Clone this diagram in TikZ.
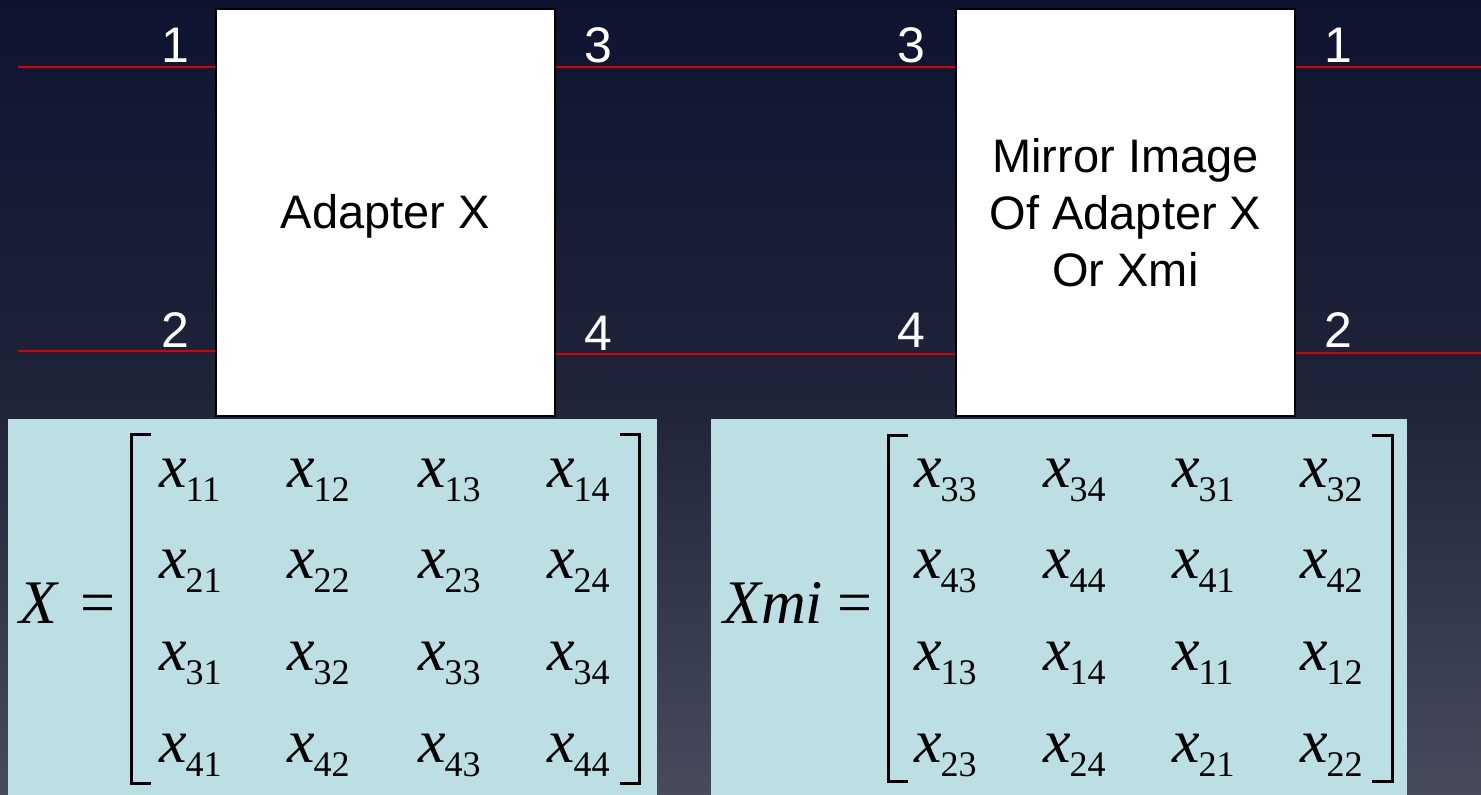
\documentclass[tikz,border=0pt]{standalone}
\usepackage{fontspec}
\setmainfont{Liberation Sans}
\newfontfamily\tnr{Liberation Serif}
\definecolor{bgtop}{HTML}{0E1430}
\definecolor{bgmid}{HTML}{1F2439}
\definecolor{bgbot}{HTML}{474B5C}
\definecolor{panel}{HTML}{BBDFE3}
\definecolor{wirered}{HTML}{DC0000}
\newcommand\melem[1]{{\tnr\fontsize{62}{62}\selectfont\itshape x}\kern-1pt\raisebox{-14pt}{\tnr\fontsize{36}{36}\selectfont #1}}
\tikzset{
  box/.style={draw=black, fill=white, line width=2pt, inner sep=0pt, minimum width=339pt, minimum height=407pt, align=center, font=\fontsize{47}{57}\selectfont},
  wire/.style={draw=wirered, line width=2pt},
  port/.style={text=white, inner sep=0pt, font=\fontsize{50}{50}\selectfont},
  panelbox/.style={fill=panel, draw=none},
  bracket/.style={draw=black, line width=3pt},
  mel/.style={anchor=base west, inner sep=0pt, text=black},
  mlhs/.style={anchor=base west, inner sep=0pt, text=black, font=\tnr\fontsize{62}{62}\selectfont}
}
\begin{document}
\begin{tikzpicture}[x=1pt,y=-1pt]
\shade[top color=bgtop, bottom color=bgbot, middle color=bgmid] (0,0) rectangle (1481,795);
\useasboundingbox (0,0) rectangle (1481,795);

% panels
\fill[panelbox] (8,419) rectangle (657,795);
\fill[panelbox] (711,419) rectangle (1407,795);

% wire end coordinates
\coordinate (l1) at (18,67);
\coordinate (l2) at (18,351);
\coordinate (r1) at (1481,67);
\coordinate (r2) at (1481,353);
\coordinate (m1) at (700,67);
\coordinate (m2) at (700,354);

% boxes
\node[box] (A) at (385.5,212.5) {\raisebox{-4pt}[\height][\depth]{Adapter X}};
\node[box] (B) at (1125.5,212.5) {Mirror Image\\Of Adapter X\\Or Xmi};

% wires
\draw[wire] (l1) -- (l1 -| A.west);
\draw[wire] (l2) -- (l2 -| A.west);
\draw[wire] (m1 -| A.east) -- (m1 -| B.west);
\draw[wire] (m2 -| A.east) -- (m2 -| B.west);
\draw[wire] (r1 -| B.east) -- (r1);
\draw[wire] (r2 -| B.east) -- (r2);

% port labels
\node[port] (pA1) at (175,45) {1};
\node[port] (pA2) at (175,330) {2};
\node[port] (pA3) at (598,45) {3};
\node[port] (pA4) at (598,333) {4};
\node[port] (pB3) at (911,45) {3};
\node[port] (pB4) at (911,330) {4};
\node[port] (pB1) at (1338,45) {1};
\node[port] (pB2) at (1338,330) {2};

% left matrix
\node[mlhs] (lhsX) at (19,623) {\itshape X};
\node[mlhs] (eqX) at (80,623) {=};
\draw[bracket] (151,434) -- (131,434) -- (131,783) -- (151,783);
\draw[bracket] (620,434) -- (639,434) -- (639,783) -- (620,783);
\foreach \r/\y in {1/487,2/578,3/670,4/762}{
  \foreach \c/\x in {1/159,2/287,3/418,4/547}{
    \node[mel] (X\r\c) at (\x,\y) {\melem{\r\c}};
  }
}

% right matrix
\node[mlhs] (lhsXmi) at (723,623) {\itshape Xmi};
\node[mlhs] (eqXmi) at (837,623) {=};
\draw[bracket] (908,435) -- (888,435) -- (888,781) -- (908,781);
\draw[bracket] (1372,435) -- (1392,435) -- (1392,781) -- (1372,781);
\foreach \r/\y/\ea/\eb/\ec/\ed in {1/487/33/34/31/32,2/578/43/44/41/42,3/670/13/14/11/12,4/762/23/24/21/22}{
  \node[mel] (M\r1) at (914,\y) {\melem{\ea}};
  \node[mel] (M\r2) at (1043,\y) {\melem{\eb}};
  \node[mel] (M\r3) at (1172,\y) {\melem{\ec}};
  \node[mel] (M\r4) at (1300,\y) {\melem{\ed}};
}
\end{tikzpicture}
\end{document}
